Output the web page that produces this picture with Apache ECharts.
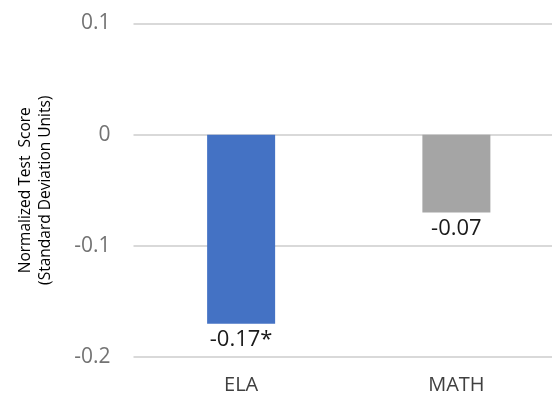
<!DOCTYPE html>
<html>
<head>
<meta charset="utf-8">
<script src="https://cdn.jsdelivr.net/npm/echarts@6/dist/echarts.min.js"></script>
<style>
  html, body { margin: 0; padding: 0; background: #fff; overflow: hidden; }
  #chart { width: 564px; height: 398px; }
</style>
</head>
<body>
<div id="chart"></div>
<script>
// Subjects and their normalized score effects
const categories = ['ELA', 'MATH'];
const scores = [-0.17, -0.07];
const scoreLabels = ['-0.17*', '-0.07'];
const barColors = ['#4472C4', '#A5A5A5'];

const chart = echarts.init(document.getElementById('chart'));
const FONT = '"Open Sans", "Noto Sans", sans-serif';

chart.setOption({
  animation: false,
  grid: { left: 133.5, top: 23.5, right: 0, height: 333.5, containLabel: false },
  xAxis: {
    type: 'category',
    data: categories,
    position: 'bottom',
    axisLine: { show: false },
    axisTick: { show: false },
    axisLabel: {
      margin: 18,
      fontFamily: FONT,
      fontSize: 20,
      color: '#404040'
    }
  },
  yAxis: {
    type: 'value',
    min: -0.2,
    max: 0.1,
    interval: 0.1,
    name: 'Normalized Test  Score\n(Standard Deviation Units)',
    nameLocation: 'middle',
    nameRotate: 90,
    nameGap: 78,
    nameTextStyle: {
      fontFamily: FONT,
      fontSize: 15.5,
      color: '#000',
      lineHeight: 20
    },
    axisLine: { show: false },
    axisTick: { show: false },
    splitLine: { lineStyle: { color: '#d9d9d9', width: 2 } },
    axisLabel: {
      margin: 23,
      fontFamily: FONT,
      fontSize: 21,
      color: '#737373',
      formatter: v => {
        const r = Math.round(v * 10) / 10;
        return r === 0 ? '0' : String(r);
      }
    }
  },
  series: [{
    type: 'bar',
    barWidth: 68,
    data: scores.map((v, i) => ({ value: v, itemStyle: { color: barColors[i] } })),
    label: {
      show: true,
      position: 'bottom',
      distance: 5,
      fontFamily: FONT,
      fontSize: 22,
      color: '#1a1a1a',
      formatter: p => scoreLabels[p.dataIndex]
    }
  }]
});
</script>
</body>
</html>
